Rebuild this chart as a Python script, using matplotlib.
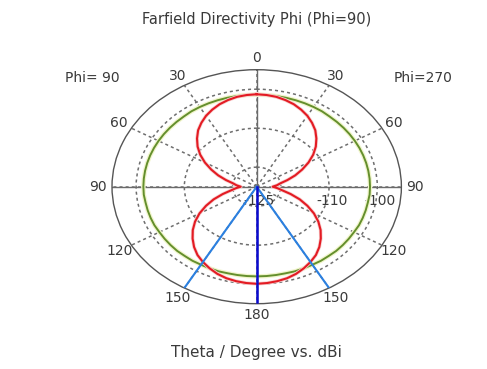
import numpy as np
import matplotlib
matplotlib.use("Agg")
import matplotlib.pyplot as plt

# theta in degrees (same on both phi cuts, plot is symmetric)
theta_deg = list(range(0, 185, 5))
red_dbi = [-101.3, -101.4, -101.6, -102.0, -102.5, -103.2, -104.0, -105.0, -106.1, -107.5,
           -109.0, -110.7, -112.6, -114.6, -116.5, -118.4, -120.0, -120.8, -121.7,
           -120.7, -119.6, -117.7, -115.5, -113.4, -111.3, -109.4, -107.7, -106.2, -104.8,
           -103.6, -102.7, -101.9, -101.2, -100.7, -100.4, -100.2, -100.1]
green_dbi = [-101.4, -101.4, -101.4, -101.4, -101.4, -101.4, -101.4, -101.4, -101.5, -101.5,
             -101.5, -101.5, -101.5, -101.5, -101.5, -101.5, -101.5, -101.5, -101.5,
             -101.5, -101.6, -101.6, -101.6, -101.6, -101.7, -101.7, -101.7, -101.7, -101.8,
             -101.8, -101.9, -101.9, -101.9, -102.0, -102.0, -102.0, -102.0]

main_lobe_dir = 180
beam_edges = [150, 210]

r_min, r_max = -125, -95
ring_values = [-120, -110, -100]
ring_labels = [-125, -110, -100]
angle_ticks = list(range(0, 360, 30))
angle_labels = ["0", "30", "60", "90", "120", "150", "180", "150", "120", "90", "60", "30"]

text_col = "#3a3a3a"
grid_col = "#6e6e6e"

fig = plt.figure(figsize=(4.87, 3.69), dpi=100)
ax = fig.add_axes([0.2300, 0.1770, 0.5942, 0.6341], projection="polar")
ax.set_aspect("auto")
ax.set_theta_zero_location("N")
ax.set_theta_direction(-1)
ax.set_ylim(r_min, r_max)

ax.set_xticks(np.radians(angle_ticks))
ax.set_xticklabels([])
ax.set_yticks(ring_values)
ax.set_yticklabels([])
ax.grid(True, color=grid_col, linestyle=(0, (2.0, 2.0)), linewidth=1.1)
ax.spines["polar"].set_color("#555555")
ax.spines["polar"].set_linewidth(1.0)

# solid axis cross
for a in [0, 90, 180, 270]:
    ax.plot([np.radians(a)] * 2, [r_min, r_max], color="#6a6a6a", lw=1.0, zorder=2)

# both phi cuts: right side (phi=270) clockwise, left side (phi=90) mirrored
th = np.radians(theta_deg)
th_full = np.concatenate([th, 2 * np.pi - th[::-1]])
red_full = np.concatenate([red_dbi, red_dbi[::-1]])
green_full = np.concatenate([green_dbi, green_dbi[::-1]])

ax.plot(th_full, green_full, color="#f1f5cc", lw=3.2, zorder=3)
ax.plot(th_full, green_full, color="#648f2c", lw=1.4, zorder=4)
ax.plot(th_full, red_full, color="#f8d0d0", lw=2.6, zorder=5)
ax.plot(th_full, red_full, color="#e31b23", lw=1.5, zorder=6)

for b in beam_edges:
    ax.plot([np.radians(b)] * 2, [r_min, r_max], color="#2b80e0", lw=1.5, zorder=7)
ax.plot([np.radians(main_lobe_dir)] * 2, [r_min, r_max], color="#0a0ad0", lw=1.8, zorder=8)

# angle labels outside the circle
for a, lab in zip(angle_ticks, angle_labels):
    ax.text(np.radians(a), r_max + 2.9, lab, ha="center", va="center",
            fontsize=10, color=text_col, clip_on=False)

# ring value labels along the 90 deg axis (sit under the curves)
for v in ring_labels:
    ax.annotate(str(v), xy=(np.radians(90), v), xytext=(2, -10), textcoords="offset points",
                ha="center", va="center", fontsize=10, color=text_col, zorder=2.5)

fig.text(0.5273, 0.9458, "Farfield Directivity Phi (Phi=90)", ha="center", va="center",
         fontsize=10.5, color=text_col)
fig.text(0.1886, 0.7886, "Phi= 90", ha="center", va="center", fontsize=10, color=text_col)
fig.text(0.8683, 0.7886, "Phi=270", ha="center", va="center", fontsize=10, color=text_col)
fig.text(0.5267, 0.0434, "Theta / Degree vs. dBi", ha="center", va="center",
         fontsize=11, color=text_col)

fig.savefig("out.png", dpi=100)
plt.close(fig)
